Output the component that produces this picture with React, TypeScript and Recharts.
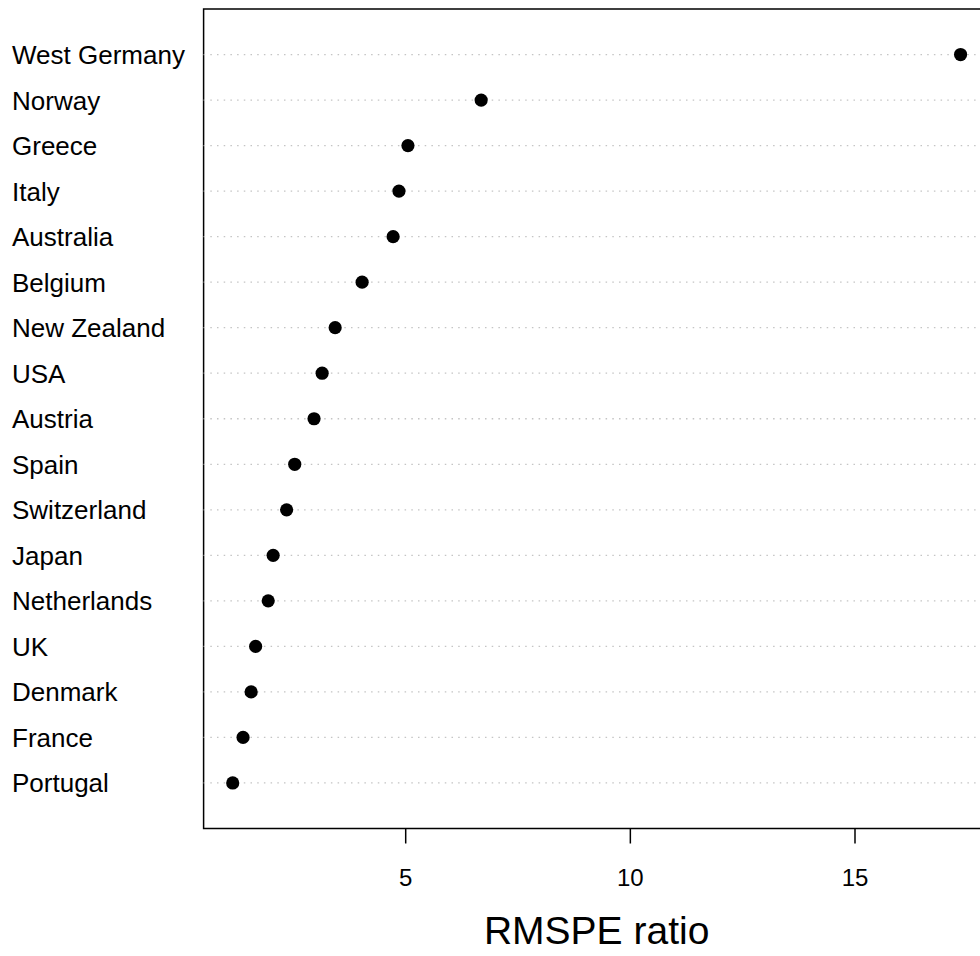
import { ScatterChart, Scatter, XAxis, YAxis, ReferenceLine, ReferenceArea } from 'recharts';

// countries listed top to bottom as in the plot
const countries = [
  'West Germany', 'Norway', 'Greece', 'Italy', 'Australia', 'Belgium', 'New Zealand', 'USA', 'Austria',
  'Spain', 'Switzerland', 'Japan', 'Netherlands', 'UK', 'Denmark', 'France', 'Portugal',
];
const ratios = [17.35, 6.68, 5.05, 4.85, 4.72, 4.03, 3.43, 3.14, 2.96, 2.53, 2.35, 2.05, 1.94, 1.66, 1.56, 1.38, 1.15];
const xTicks = [5, 10, 15];
const xTitle = 'RMSPE ratio';

const X_DOMAIN: [number, number] = [0.502, 17.998];
const Y_DOMAIN: [number, number] = [0, countries.length + 1];

const data = countries.map((name, i) => ({ name, ratio: ratios[i], pos: i + 1 }));
const rowPositions = data.map((d) => d.pos);

const FONT = '"Liberation Sans", Arial, Helvetica, sans-serif';

function CountryTick(props: any) {
  const { y, payload } = props;
  return (
    <text x={12} y={y + 9.5} textAnchor="start" fontSize={26} fontFamily={FONT} fill="#000">
      {countries[payload.value - 1]}
    </text>
  );
}

function ValueTick(props: any) {
  const { x, payload } = props;
  return (
    <text x={x} y={886} textAnchor="middle" fontSize={24} fontFamily={FONT} fill="#000">
      {payload.value}
    </text>
  );
}

function AxisTitle(props: any) {
  const vb = props.viewBox || {};
  return (
    <text x={vb.x + vb.width / 2} y={944} textAnchor="middle" fontSize={39} fontFamily={FONT} fill="#000">
      {xTitle}
    </text>
  );
}

export default function App() {
  return (
    <div style={{ position: 'absolute', left: 0, top: 0, width: 980, height: 956, overflow: 'hidden', background: '#fff' }}>
      <ScatterChart width={1000} height={956} margin={{ top: 9, right: 10.3, bottom: 0, left: 0 }}>
        <XAxis
          type="number"
          dataKey="ratio"
          domain={X_DOMAIN}
          allowDataOverflow
          ticks={xTicks}
          axisLine={false}
          tickSize={15}
          tickLine={{ stroke: '#000', strokeWidth: 1.5 }}
          tick={<ValueTick />}
          height={127.5}
          label={{ content: <AxisTitle /> }}
        />
        <YAxis
          type="number"
          dataKey="pos"
          domain={Y_DOMAIN}
          allowDataOverflow
          reversed
          ticks={rowPositions}
          interval={0}
          axisLine={false}
          tickLine={false}
          tick={<CountryTick />}
          width={203.6}
        />
        {rowPositions.map((p) => (
          <ReferenceLine key={p} y={p} stroke="#c4c4c4" strokeWidth={1.3} strokeDasharray="1.5 5.2" />
        ))}
        <ReferenceArea
          x1={X_DOMAIN[0]}
          x2={X_DOMAIN[1]}
          y1={Y_DOMAIN[0]}
          y2={Y_DOMAIN[1]}
          fill="none"
          fillOpacity={0}
          stroke="#000"
          strokeWidth={1.5}
        />
        <Scatter
          data={data}
          isAnimationActive={false}
          shape={(p: any) => <circle cx={p.cx} cy={p.cy} r={6.6} fill="#000" />}
        />
      </ScatterChart>
    </div>
  );
}
